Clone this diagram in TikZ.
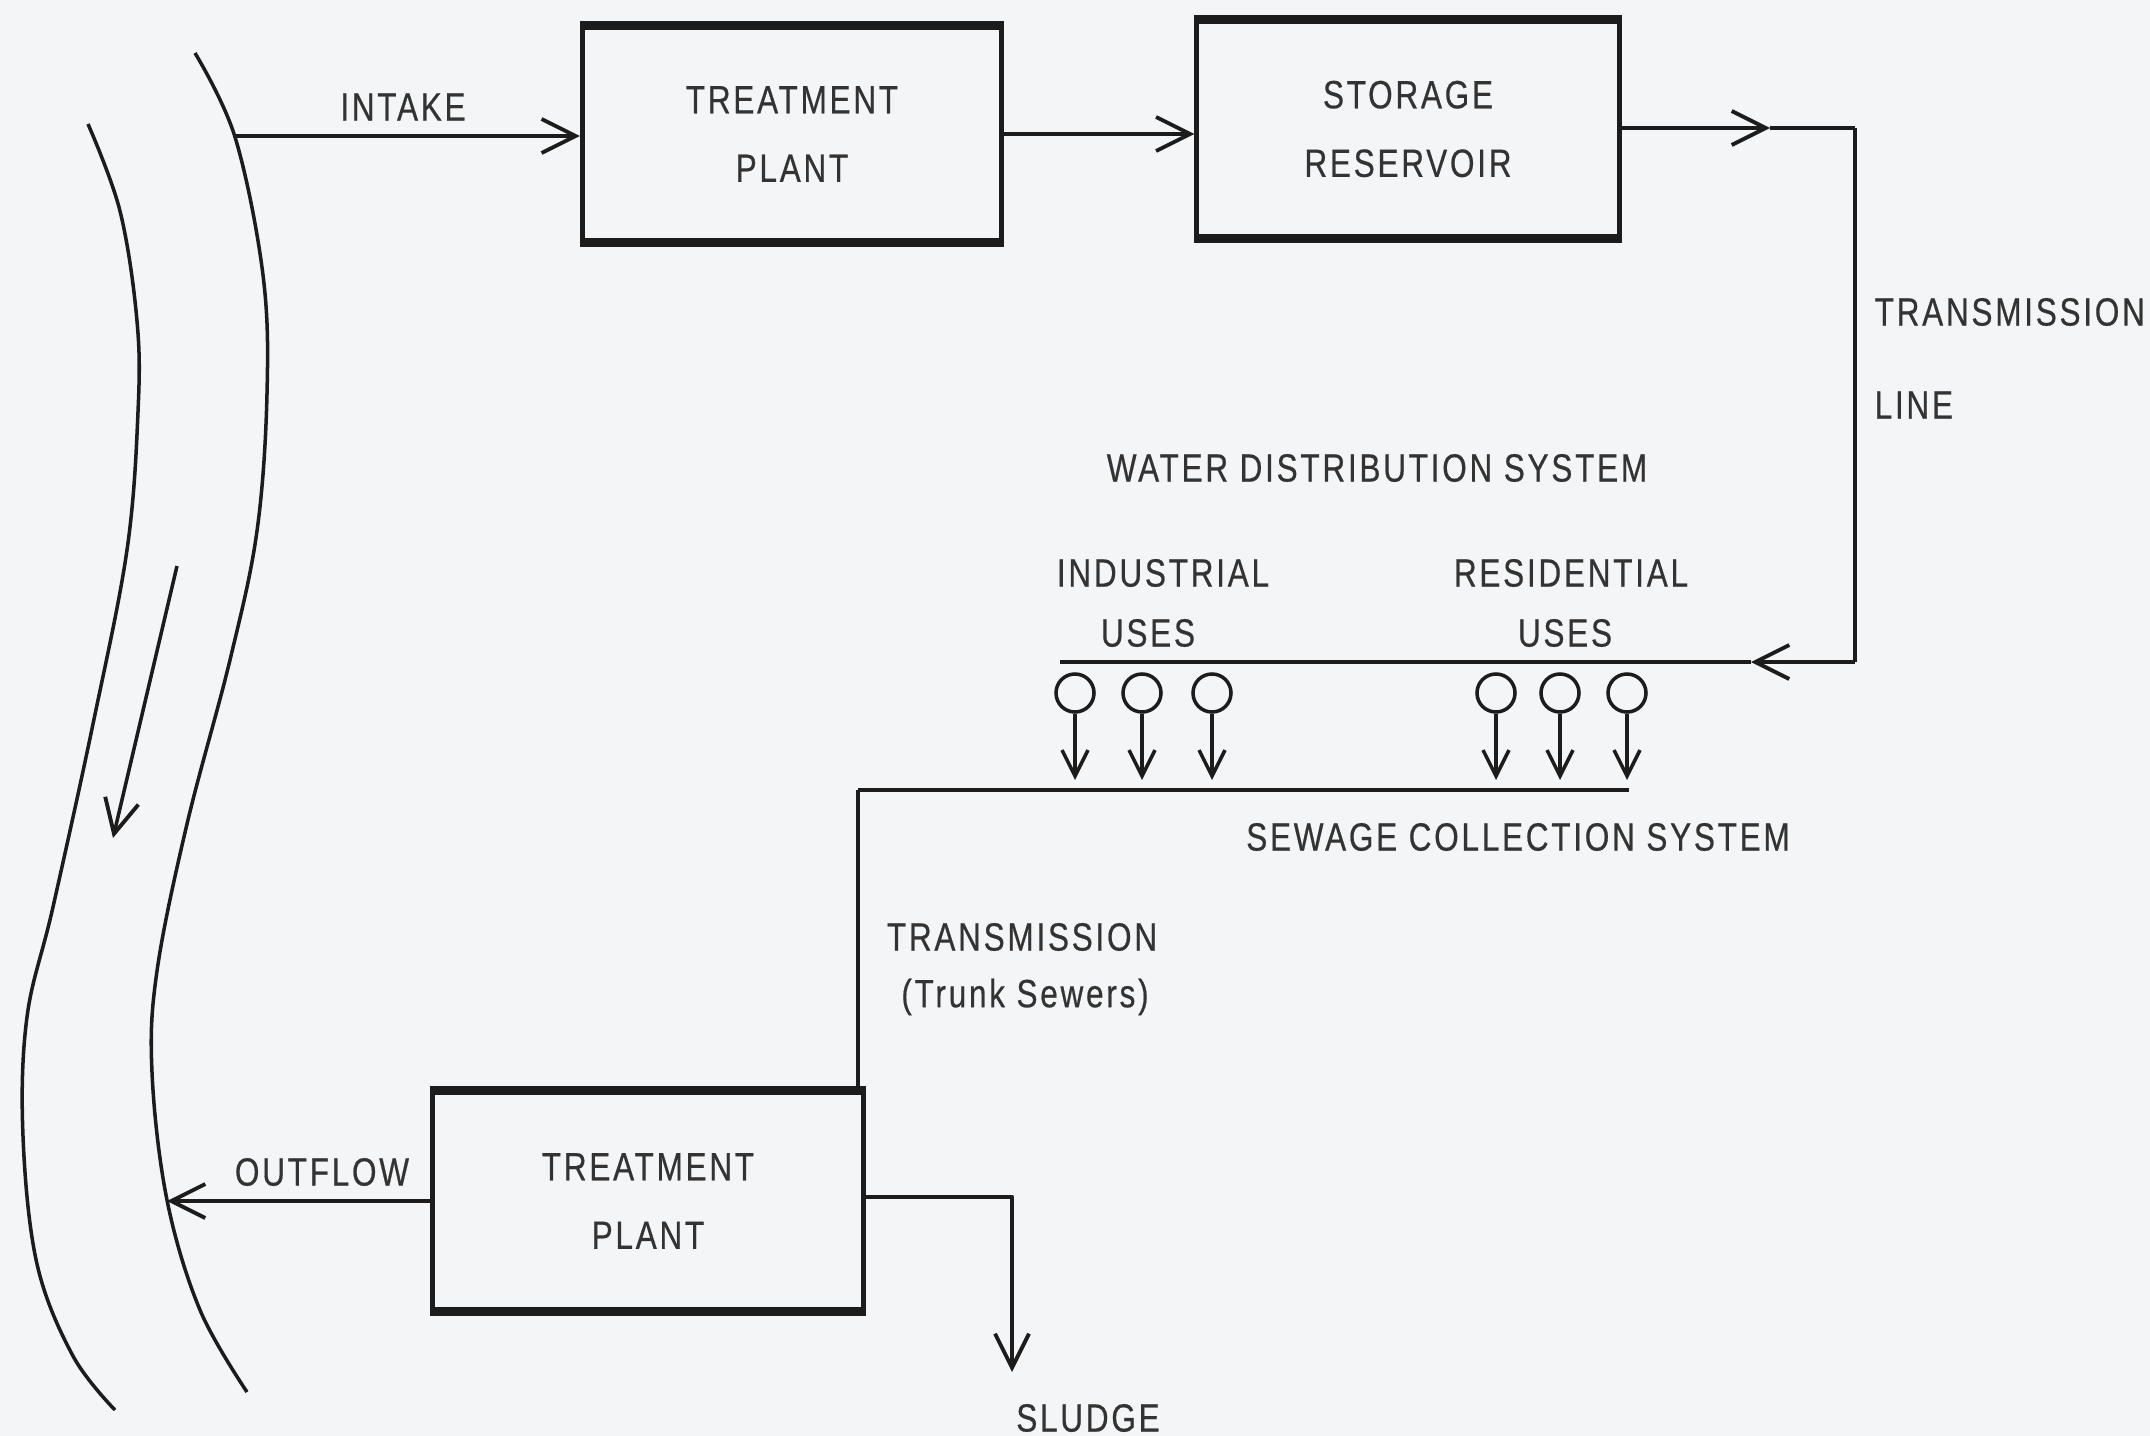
\documentclass[tikz,border=0pt]{standalone}
\usepackage{fontspec}
\setmainfont{Liberation Sans}[FakeStretch=0.8,LetterSpace=7,FakeBold=0.5]
\usepackage{xcolor}
\usepackage{tikz}
\usetikzlibrary{arrows.meta}

\definecolor{paper}{RGB}{244,245,246}
\definecolor{ink}{RGB}{28,28,28}

\begin{document}
\begin{tikzpicture}[x=0.01cm,y=-0.01cm,line join=round,
  every node/.style={font=\fontsize{11.2}{19.5}\selectfont,text=ink!90,inner sep=0pt},
  plant/.style={draw=ink,line width=1.4pt,minimum width=4.19cm,minimum height=2.13cm,align=center},
  pipe/.style={draw=ink,line width=1.25pt},
  bank/.style={draw=ink,line width=1pt},
  flow/.style={pipe,-{Straight Barb[length=3.4mm,width=3.4mm,line width=1.1pt]}},
  drop/.style={draw=ink,line width=1pt,-{Straight Barb[length=2.6mm,width=2.6mm,line width=1pt]}},
  use/.style={circle,draw=ink,line width=1pt,minimum size=3.8mm}]
  \fill[paper] (0,0) rectangle (2150,1436);
  \useasboundingbox (0,0) rectangle (2150,1436);
  \draw[bank] plot[smooth,tension=0.6] coordinates {(88,124) (120,211) (137,321) (138,412) (127,550) (93,724) (53,907) (27,1017) (23,1136) (37,1264) (73,1356) (115,1410)};
  \draw[bank] plot[smooth,tension=0.6] coordinates {(195,53) (235,137) (263,275) (267,394) (257,531) (230,660) (187,824) (157,971) (152,1072) (167,1200) (200,1310) (247,1392)};
  \coordinate (rv1) at (177,566);
  \coordinate (rv2) at (113,838);
  \draw[flow,line width=1pt] (rv1) -- (rv2);
  \node[plant] (tp1) at (792,134) {TREATMENT\\PLANT};
  \node[plant,minimum width=4.22cm,minimum height=2.14cm] (sr) at (1408,129) {STORAGE\\RESERVOIR};
  \node[plant,minimum width=4.31cm,minimum height=2.16cm] (tp2) at (648,1201) {TREATMENT\\PLANT};
  \foreach \b in {tp1,sr,tp2}
    \draw[ink,line width=2.3pt] (\b.north west) -- (\b.north east) (\b.south west) -- (\b.south east);
  \coordinate (intake) at (234,136);
  \draw[flow] (intake) -- (intake -| tp1.west);
  \draw[flow] (tp1.east) -- (tp1.east -| sr.west);
  \coordinate (tl1) at (1770,128);
  \coordinate (tc1) at (1855,128);
  \coordinate (tc2) at (1855,662);
  \coordinate (tl2) at (1751,662);
  \coordinate (dl) at (1060,662);
  \draw[flow] (sr.east |- tl1) -- (tl1);
  \draw[pipe] (tl1) -- (tc1);
  \draw[pipe,line width=0.9pt] (tc1) -- (tc2);
  \draw[flow] (tc2) -- (tl2);
  \draw[pipe] (tl2) -- (dl);
  \foreach \n/\x in {1/1075,2/1142,3/1212,4/1496,5/1560,6/1627} {
    \node[use] (u\n) at (\x,693) {};
    \coordinate (s\n) at (\x,780);
    \draw[drop] (u\n.south) -- (s\n);
  }
  \coordinate (sc1) at (1629,790);
  \coordinate (sc2) at (858,790);
  \draw[pipe] (sc1) -- (sc2);
  \draw[pipe,line width=0.9pt] (sc2) -- (sc2 |- tp2.north);
  \coordinate (outfall) at (167,1201);
  \draw[flow] (tp2.west) -- (outfall);
  \coordinate (sl1) at (1012,1197);
  \coordinate (sl2) at (1012,1372);
  \draw[flow] (tp2.east |- sl1) -- (sl1) -- (sl2);
  \node (intakel) at (403,107) {INTAKE};
  \node[anchor=west] (tline1) at (1874,312) {TRANSMISSION};
  \node[anchor=west] (tline2) at (1874,405) {LINE};
  \node (wds) at (1377,468) {WATER DISTRIBUTION SYSTEM};
  \node (ind1) at (1163,573) {INDUSTRIAL};
  \node (ind2) at (1148,633) {USES};
  \node (res1) at (1571,573) {RESIDENTIAL};
  \node (res2) at (1565,633) {USES};
  \node (scs) at (1518,837) {SEWAGE COLLECTION SYSTEM};
  \node (trunk1) at (1022,937) {TRANSMISSION};
  \node (trunk2) at (1025,997) {(Trunk Sewers)};
  \node (outl) at (322,1172) {OUTFLOW};
  \node (sludge) at (1088,1418) {SLUDGE};
\end{tikzpicture}
\end{document}
